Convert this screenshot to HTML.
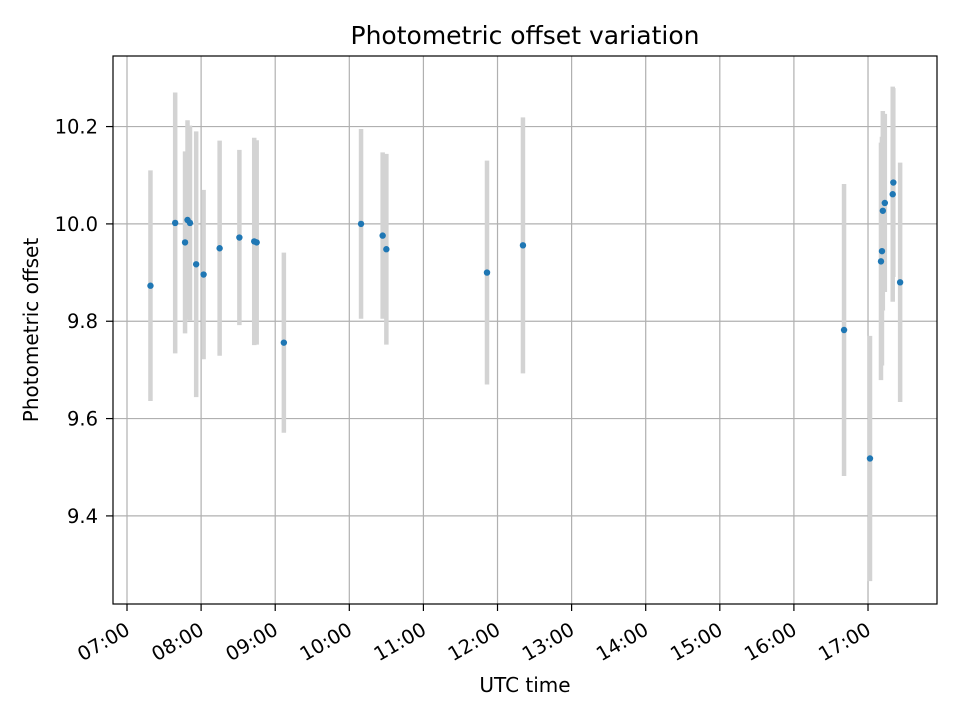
<!DOCTYPE html>
<html><head><meta charset="utf-8"><style>
body{margin:0;background:#fff}
svg{display:block;font-family:"DejaVu Sans","Liberation Sans",sans-serif}
</style></head><body>
<svg id="chart" width="960" height="720" viewBox="0 0 960 720" xmlns="http://www.w3.org/2000/svg">
<rect width="960" height="720" fill="#fff"/>
<g id="grid"></g><g id="bars"></g><g id="pts"></g><g id="axes"></g>
</svg>
<script>
const times = ["07:19","07:39","07:47","07:49","07:51","07:56","08:02","08:15","08:31","08:43","08:45","09:07","10:09.5","10:27","10:30","11:51.5","12:20.6","16:40.6","17:01.6","17:10.5","17:11.3","17:12","17:13.6","17:20","17:20.5","17:26"];
const offsets = [9.873,10.002,9.962,10.008,10.002,9.917,9.896,9.950,9.972,9.964,9.962,9.756,10.000,9.976,9.948,9.900,9.956,9.782,9.518,9.923,9.944,10.027,10.043,10.061,10.085,9.880];
const errors = [0.237,0.268,0.187,0.205,0.200,0.273,0.174,0.221,0.180,0.213,0.210,0.185,0.195,0.171,0.196,0.230,0.263,0.300,0.252,0.244,0.235,0.205,0.183,0.221,0.194,0.246];
const yTicks = [9.4,9.6,9.8,10.0,10.2];
const yTickLabels = ["9.4","9.6","9.8","10.0","10.2"];
const xTickHours = [7,8,9,10,11,12,13,14,15,16,17];
const xTickLabels = ["07:00","08:00","09:00","10:00","11:00","12:00","13:00","14:00","15:00","16:00","17:00"];

const L=113,R=937,T=56,B=604;
const xMin=6.811,xMax=17.931,yMin=9.219,yMax=10.345;
const NS="http://www.w3.org/2000/svg";
function xs(h){return L+(h-xMin)/(xMax-xMin)*(R-L);}
function ys(v){return B-(v-yMin)/(yMax-yMin)*(B-T);}
function toH(s){const p=s.split(":");return +p[0]+(+p[1])/60;}
function mk(tag,attrs,parent){const e=document.createElementNS(NS,tag);for(const k in attrs)e.setAttribute(k,attrs[k]);parent.appendChild(e);return e;}
const grid=document.getElementById('grid'),bars=document.getElementById('bars'),pts=document.getElementById('pts'),axes=document.getElementById('axes');

xTickHours.forEach((h,i)=>{
  const x=xs(h);
  const g=mk('line',{x1:x,x2:x,y1:T,y2:B,stroke:'#b0b0b0','stroke-width':1.2},grid);
  
  
  const t=mk('line',{x1:x,x2:x,y1:B,y2:B+7,stroke:'#000','stroke-width':1.2},axes);
  
  
  const lb=mk('text',{x:x-3,y:621,'font-size':19.5,'text-anchor':'end','dominant-baseline':'hanging',transform:`rotate(-30 ${x-3} 621)`},axes);
  lb.textContent=xTickLabels[i];
  
  
});
yTicks.forEach((v,i)=>{
  const y=ys(v);
  const g=mk('line',{x1:L,x2:R,y1:y,y2:y,stroke:'#b0b0b0','stroke-width':1.2},grid);
  
  
  const t=mk('line',{x1:L-7,x2:L,y1:y,y2:y,stroke:'#000','stroke-width':1.2},axes);
  
  
  const lb=mk('text',{x:L-15,y:y+7,'font-size':19.5,'text-anchor':'end'},axes);
  lb.textContent=yTickLabels[i];
  
  
});
times.forEach((s,i)=>{
  const x=xs(toH(s));
  const b=mk('line',{x1:x,x2:x,y1:ys(offsets[i]+errors[i]),y2:ys(offsets[i]-errors[i]),stroke:'#d3d3d3','stroke-width':4.5},bars);
  
  
  const c=mk('circle',{cx:x,cy:ys(offsets[i]),r:3.2,fill:'#1f77b4'},pts);
  
  
});
const fr=mk('rect',{x:L,y:T,width:R-L,height:B-T,fill:'none',stroke:'#000','stroke-width':1.2},axes);


const ti=mk('text',{x:(L+R)/2,y:44,'font-size':25,'text-anchor':'middle'},axes);
ti.textContent='Photometric offset variation';


const xl=mk('text',{x:(L+R)/2,y:692,'font-size':20,'text-anchor':'middle'},axes);
xl.textContent='UTC time';


const yl=mk('text',{x:38,y:(T+B)/2,'font-size':20,'text-anchor':'middle',transform:`rotate(-90 38 ${(T+B)/2})`},axes);
yl.textContent='Photometric offset';


</script>
</body></html>
